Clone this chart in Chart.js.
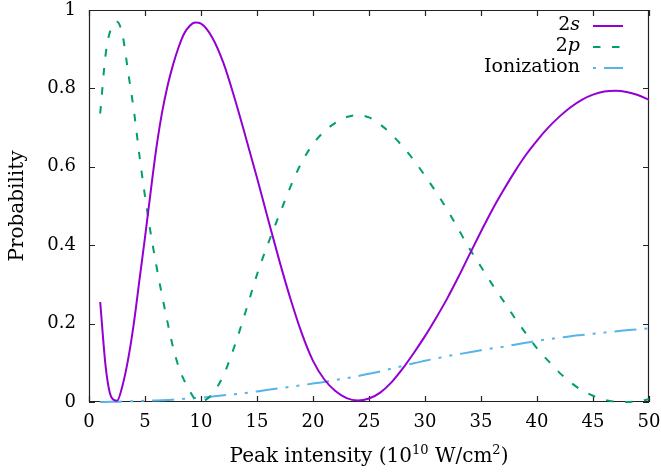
<!DOCTYPE html>
<html><head><meta charset="utf-8">
<script src="https://cdn.jsdelivr.net/npm/chart.js@4/dist/chart.umd.min.js"></script>
<style>html,body{margin:0;padding:0;background:#fff;}#wrap{width:661px;height:472px;}</style>
</head><body><div id="wrap"><canvas id="c" width="661" height="472"></canvas></div>
<script>
// ---- data ----
const intensity = [1,1.5,2,2.5,3,3.5,4,4.5,5,5.5,6,6.5,7,7.5,8,8.5,9,9.5,10,
  11,12,13,14,15,16,17,18,19,20,21,22,23,24,25,26,27,28,29,30,
  31,32,33,34,35,36,37,38,39,40,41,42,43,44,45,46,47,48,49,50];
const pop2s = [0.255,0.087,0.012,0.003,0.043,0.11,0.2,0.31,0.42,0.535,0.645,0.735,0.805,0.86,0.905,0.94,0.96,0.968,0.965,
  0.93,0.865,0.775,0.675,0.572,0.465,0.36,0.262,0.175,0.105,0.058,0.028,0.01,0.004,0.009,0.024,0.05,0.085,0.125,0.168,
  0.215,0.265,0.32,0.378,0.435,0.49,0.54,0.587,0.63,0.667,0.70,0.728,0.752,0.771,0.784,0.792,0.794,0.791,0.783,0.771];
const pop2p = [0.736,0.89,0.955,0.97,0.935,0.84,0.745,0.63,0.525,0.432,0.35,0.275,0.205,0.14,0.09,0.055,0.028,0.006,0.002,
  0.02,0.068,0.143,0.232,0.325,0.405,0.478,0.55,0.612,0.658,0.69,0.712,0.727,0.732,0.726,0.708,0.683,0.652,0.617,0.577,
  0.535,0.49,0.44,0.39,0.345,0.30,0.258,0.215,0.175,0.137,0.105,0.075,0.05,0.03,0.016,0.006,0.001,0.0,0.002,0.007];
const ionization = [0,0.0002,0.0005,0.0008,0.001,0.0015,0.002,0.0025,0.003,0.0035,0.004,0.0045,0.005,0.006,0.007,0.008,0.009,0.01,0.011,
  0.014,0.017,0.02,0.023,0.027,0.031,0.035,0.039,0.043,0.047,0.051,0.056,0.061,0.066,0.072,0.078,0.085,0.092,0.099,0.105,
  0.111,0.117,0.122,0.127,0.132,0.137,0.141,0.146,0.151,0.156,0.16,0.164,0.168,0.171,0.174,0.177,0.18,0.183,0.185,0.188];
const xTicks = [0,5,10,15,20,25,30,35,40,45,50];
const yTicks = [0,0.2,0.4,0.6,0.8,1];
const seriesLabels = ['2s','2p','Ionization'];

const FONT = 'DejaVu Serif';
const toPts = ys => intensity.map((x,i)=>({x:x,y:ys[i]}));

const framePlugin = {
  id:'frame',
  beforeDatasetsDraw(chart){
    const {ctx, chartArea:a, scales} = chart;
    const sx = scales.x, sy = scales.y;
    ctx.save();
    ctx.strokeStyle = '#222'; ctx.lineWidth = 1.2;
    ctx.beginPath();
    ctx.rect(a.left+0.5, a.top+0.5, a.right-a.left-1, a.bottom-a.top-1);
    ctx.stroke();
    ctx.beginPath();
    xTicks.forEach(v=>{
      const p = Math.round(sx.getPixelForValue(v))+0.5;
      ctx.moveTo(p, a.bottom); ctx.lineTo(p, a.bottom-6);
      ctx.moveTo(p, a.top); ctx.lineTo(p, a.top+6);
    });
    yTicks.forEach(v=>{
      const p = Math.round(sy.getPixelForValue(v))+0.5;
      ctx.moveTo(a.left, p); ctx.lineTo(a.left+6, p);
      ctx.moveTo(a.right, p); ctx.lineTo(a.right-6, p);
    });
    ctx.stroke();
    ctx.restore();
  },
  afterDraw(chart){
    const {ctx, chartArea:a} = chart;
    ctx.save();
    ctx.fillStyle = '#000';
    // legend
    const textRight = 580, x0 = 593, x1 = 623;
    chart.data.datasets.forEach((ds,i)=>{
      const yc = 25 + 21*i;
      ctx.textBaseline = 'middle';
      ctx.textAlign = 'right';
      if (i < 2) {
        ctx.font = 'italic 19px "' + FONT + '"';
        const tail = ds.label.slice(1);
        ctx.fillText(tail, textRight, yc);
        const w = ctx.measureText(tail).width;
        ctx.font = '19px "' + FONT + '"';
        ctx.fillText(ds.label.slice(0,1), textRight - w, yc);
      } else {
        ctx.font = '19px "' + FONT + '"';
        ctx.fillText(ds.label, textRight, yc);
      }
      ctx.beginPath();
      ctx.strokeStyle = ds.borderColor;
      ctx.lineWidth = ds.borderWidth;
      ctx.setLineDash(ds.borderDash || []);
      ctx.lineDashOffset = ds.legendDashOffset || 0;
      ctx.moveTo(x0, yc+1); ctx.lineTo(x1, yc+1);
      ctx.stroke();
      ctx.setLineDash([]);
    });
    // y-axis title
    ctx.save();
    ctx.translate(18, (a.top+a.bottom)/2);
    ctx.rotate(-Math.PI/2);
    ctx.font = '20px "' + FONT + '"';
    ctx.textAlign = 'center'; ctx.textBaseline = 'middle';
    ctx.fillText('Probability', 0, 0);
    ctx.restore();
    // x-axis title with superscripts
    const parts = [['Peak intensity (10',20,0],['10',13,-8],[' W/cm',20,0],['2',13,-8],[')',20,0]];
    let total = 0;
    parts.forEach(p=>{ctx.font = p[1]+'px "'+FONT+'"'; total += ctx.measureText(p[0]).width;});
    let xx = (a.left+a.right)/2 - total/2;
    const base = 462;
    ctx.textAlign = 'left'; ctx.textBaseline = 'alphabetic';
    parts.forEach(p=>{
      ctx.font = p[1]+'px "'+FONT+'"';
      ctx.fillText(p[0], xx, base + p[2]);
      xx += ctx.measureText(p[0]).width;
    });
    ctx.restore();
  }
};

Chart.defaults.font.family = FONT;
Chart.defaults.font.size = 18;
Chart.defaults.color = '#000';

new Chart(document.getElementById('c'), {
  type:'line',
  data:{
    datasets:[
      {label:seriesLabels[0], data:toPts(pop2s), borderColor:'#9400d3', borderWidth:2, pointRadius:0, cubicInterpolationMode:'monotone', clip:3},
      {label:seriesLabels[1], data:toPts(pop2p), borderColor:'#009e73', borderWidth:2, borderDash:[7.5,11.5], pointRadius:0, cubicInterpolationMode:'monotone', clip:3},
      {label:seriesLabels[2], data:toPts(ionization), borderColor:'#56b4e9', borderWidth:2, borderDash:[22,8,3,8,3,8], legendDashOffset:41, pointRadius:0, cubicInterpolationMode:'monotone', clip:3}
    ]
  },
  options:{
    responsive:false, animation:false, devicePixelRatio:1,
    layout:{padding:{top:10,right:12,left:0,bottom:0}},
    plugins:{legend:{display:false}, tooltip:{enabled:false}},
    scales:{
      x:{type:'linear', min:0, max:50,
        afterBuildTicks:s=>{s.ticks = xTicks.map(v=>({value:v}));},
        afterFit:s=>{s.height = 70; s.paddingLeft = 0; s.paddingRight = 0;},
        ticks:{padding:10, maxRotation:0, autoSkip:false, callback:v=>String(v)},
        grid:{display:false, drawTicks:false}, border:{display:false}},
      y:{type:'linear', min:0, max:1,
        afterBuildTicks:s=>{s.ticks = yTicks.map(v=>({value:v}));},
        afterFit:s=>{s.width = 89; s.paddingTop = 0; s.paddingBottom = 0;},
        ticks:{padding:13, autoSkip:false, callback:v=>String(v)},
        grid:{display:false, drawTicks:false}, border:{display:false}}
    }
  },
  plugins:[framePlugin]
});
</script></body></html>
